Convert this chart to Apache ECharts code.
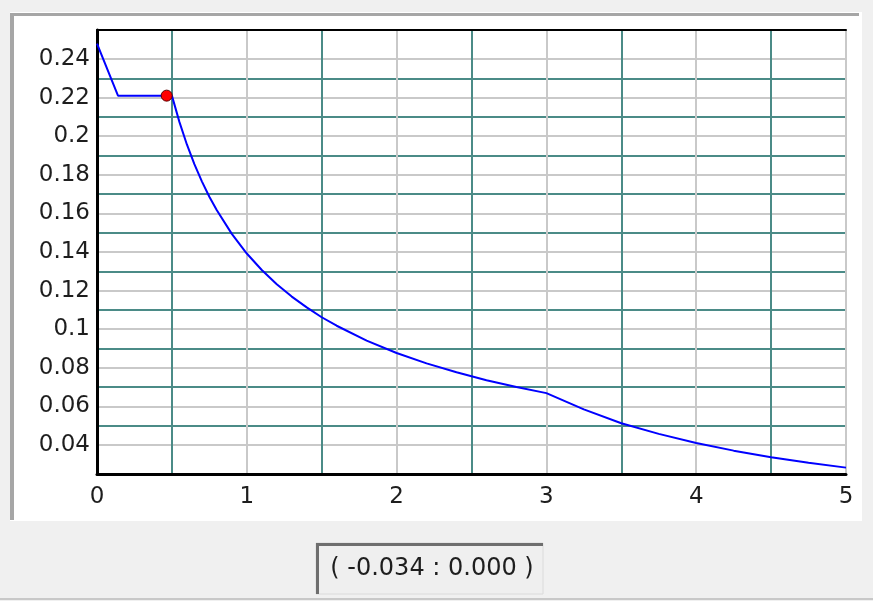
<!DOCTYPE html>
<html>
<head>
<meta charset="utf-8">
<script src="https://cdn.jsdelivr.net/npm/echarts@6/dist/echarts.min.js"></script>
<style>
html,body{margin:0;padding:0;background:#f0f0f0;}
#c{width:873px;height:601px;}
</style>
</head>
<body>
<div id="c"></div>
<script>
// Data
const periodT = [0, 0.14, 0.5, 0.55, 0.6, 0.65, 0.7, 0.75, 0.8, 0.9, 1.0, 1.1, 1.2, 1.3, 1.4, 1.5, 1.6, 1.8, 2.0, 2.2, 2.4, 2.6, 2.8, 3.0, 3.25, 3.5, 3.75, 4.0, 4.25, 4.5, 4.75, 5.0];
const spectrum = [0.248, 0.221, 0.221, 0.2074, 0.1957, 0.1855, 0.1766, 0.1686, 0.1616, 0.1494, 0.1392, 0.1307, 0.1233, 0.1169, 0.1113, 0.1062, 0.1018, 0.0941, 0.0877, 0.0823, 0.0777, 0.0736, 0.0701, 0.0669, 0.0585, 0.0513, 0.0458, 0.0411, 0.0371, 0.0337, 0.0308, 0.0283];
const markerPoint = [0.465, 0.221];
const xTickLabels = [0, 1, 2, 3, 4, 5];
const xMinorTicks = [0.5, 1.5, 2.5, 3.5, 4.5];
const yTickLabels = [0.04, 0.06, 0.08, 0.10, 0.12, 0.14, 0.16, 0.18, 0.20, 0.22, 0.24];
const yMinorTicks = [0.05, 0.07, 0.09, 0.11, 0.13, 0.15, 0.17, 0.19, 0.21, 0.23];
const statusText = '( -0.034 : 0.000 )';

const X_MIN = 0, X_MAX = 5, Y_MIN = 0.025, Y_MAX = 0.255;
const GRAY = '#c9c9c9', TEAL = '#4b8b87';
const FONT = 'DejaVu Sans';

const chart = echarts.init(document.getElementById('c'), null, {renderer: 'canvas'});

const lineData = periodT.map((t, i) => [t, spectrum[i]]);

chart.setOption({
  backgroundColor: '#f0f0f0',
  animation: false,
  graphic: [
    // white panel with sunken border
    {type: 'rect', z: -10, shape: {x: 10, y: 12, width: 852, height: 509}, style: {fill: '#ffffff'}},
    {type: 'rect', z: -9, shape: {x: 10, y: 13, width: 849, height: 3}, style: {fill: '#a6a6a6'}},
    {type: 'rect', z: -9, shape: {x: 10, y: 13, width: 4, height: 507}, style: {fill: '#a6a6a6'}},
    // status box
    {type: 'rect', z: 10, shape: {x: 316, y: 543, width: 227, height: 51}, style: {fill: '#efefef', stroke: '#dadada', lineWidth: 1}},
    {type: 'rect', z: 11, shape: {x: 316, y: 543, width: 227, height: 3}, style: {fill: '#6e6e6e'}},
    {type: 'rect', z: 11, shape: {x: 316, y: 543, width: 3, height: 51}, style: {fill: '#6e6e6e'}},
    {type: 'text', z: 12, x: 432, y: 569, style: {text: statusText, fill: '#1e1e1e', font: '24px "DejaVu Sans"', align: 'center', verticalAlign: 'middle'}},
    // bottom edge line of the window
    {type: 'rect', z: -9, shape: {x: 0, y: 598, width: 873, height: 2}, style: {fill: '#c8c8c8'}}
  ],
  grid: {left: 97, right: 27, top: 30, bottom: 127, outerBoundsMode: 'none', containLabel: false, show: false},
  xAxis: [
    {
      type: 'value', position: 'bottom', min: X_MIN, max: X_MAX,
      axisLine: {show: false},
      axisTick: {show: false, customValues: xMinorTicks},
      axisLabel: {show: false},
      splitLine: {show: true, lineStyle: {color: TEAL, width: 2}}
    },
    {
      type: 'value', position: 'bottom', min: X_MIN, max: X_MAX,
      axisLine: {show: true, onZero: false, lineStyle: {color: '#000', width: 3}},
      axisTick: {show: false, customValues: xTickLabels},
      axisLabel: {show: true, customValues: xTickLabels, margin: 12, color: '#1e1e1e', fontFamily: FONT, fontSize: 23, showMinLabel: true, showMaxLabel: true},
      splitLine: {show: true, lineStyle: {color: GRAY, width: 2}}
    },
    {
      type: 'value', position: 'top', min: X_MIN, max: X_MAX,
      axisLine: {show: true, onZero: false, lineStyle: {color: '#000', width: 2}},
      axisTick: {show: false}, axisLabel: {show: false}, splitLine: {show: false}
    }
  ],
  yAxis: [
    {
      type: 'value', position: 'left', min: Y_MIN, max: Y_MAX,
      axisLine: {show: false},
      axisTick: {show: false, customValues: yMinorTicks},
      axisLabel: {show: false},
      splitLine: {show: true, lineStyle: {color: TEAL, width: 2}}
    },
    {
      type: 'value', position: 'left', min: Y_MIN, max: Y_MAX,
      axisLine: {show: true, onZero: false, lineStyle: {color: '#000', width: 3}},
      axisTick: {show: false, customValues: yTickLabels},
      axisLabel: {show: true, customValues: yTickLabels, margin: 7, color: '#1e1e1e', fontFamily: FONT, fontSize: 23,
        formatter: v => String(+(+v).toFixed(2))},
      splitLine: {show: true, lineStyle: {color: GRAY, width: 2}}
    }
  ],
  series: [
    {
      type: 'line', xAxisIndex: 1, yAxisIndex: 1, data: lineData,
      showSymbol: false, symbol: 'none', smooth: false,
      lineStyle: {color: '#0000ff', width: 2}, z: 5
    },
    {
      type: 'scatter', xAxisIndex: 1, yAxisIndex: 1, data: [markerPoint],
      symbol: 'circle', symbolSize: 11,
      itemStyle: {color: '#ff0000', borderColor: '#5a0000', borderWidth: 1, opacity: 1}, z: 6
    }
  ]
});
</script>
</body>
</html>
